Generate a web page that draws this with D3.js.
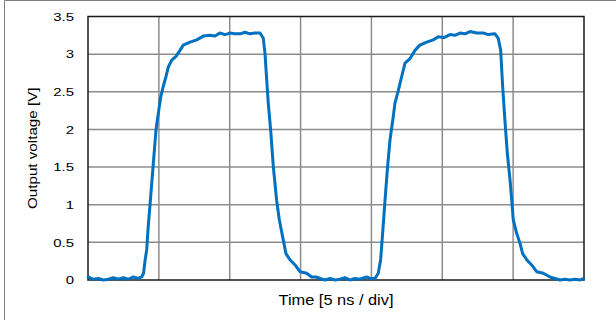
<!DOCTYPE html>
<html>
<head>
<meta charset="utf-8">
<script src="https://cdn.jsdelivr.net/npm/d3@7"></script>
<style>
  html, body { margin: 0; padding: 0; background: #fff; }
  svg { display: block; }
</style>
</head>
<body>
<svg class="chart"></svg>
<script>
// Waveform: time in ns (5 ns per division), output in volts
const timeNs = [
  0.02, 0.37, 0.73, 1.08, 1.43, 1.79, 2.14, 2.49, 2.84, 3.20, 3.55, 3.79,
  3.92, 4.02, 4.14, 4.25, 4.42, 4.61, 4.80, 4.96, 5.13, 5.31, 5.50, 5.67,
  5.91, 6.21, 6.49, 6.72, 7.20, 7.67, 8.14, 8.61, 8.96, 9.31, 9.67, 10.02,
  10.37, 10.73, 11.08, 11.43, 11.78, 12.14, 12.37, 12.49, 12.61, 12.72, 12.89, 13.08,
  13.31, 13.50, 13.78, 13.97, 14.25, 14.61, 14.96, 15.43, 15.78, 16.09, 16.37, 16.72,
  17.08, 17.43, 17.78, 18.13, 18.49, 18.84, 19.19, 19.66, 19.90, 20.25, 20.48, 20.65,
  20.79, 20.96, 21.12, 21.31, 21.54, 21.66, 21.90, 22.13, 22.37, 22.72, 23.07, 23.42,
  23.90, 24.36, 24.72, 25.12, 25.54, 25.90, 26.25, 26.60, 26.96, 27.43, 27.89, 28.25,
  28.72, 28.95, 29.12, 29.26, 29.42, 29.59, 29.78, 29.90, 30.01, 30.25, 30.48, 30.67,
  30.96, 31.31, 31.66, 32.13, 32.60, 32.95, 33.31, 33.66, 34.01, 34.36, 34.72, 34.95
];
const voltage = [
  0.04, 0.01, 0.02, 0.00, 0.01, 0.03, 0.01, 0.03, 0.01, 0.04, 0.02, 0.04,
  0.09, 0.25, 0.40, 0.71, 1.10, 1.55, 2.00, 2.21, 2.43, 2.57, 2.70, 2.83,
  2.92, 2.97, 3.05, 3.12, 3.16, 3.19, 3.24, 3.25, 3.24, 3.28, 3.26, 3.28,
  3.27, 3.27, 3.29, 3.27, 3.28, 3.28, 3.21, 3.01, 2.66, 2.35, 1.99, 1.50,
  1.06, 0.80, 0.53, 0.35, 0.27, 0.20, 0.11, 0.09, 0.04, 0.04, 0.02, 0.00,
  0.02, 0.00, 0.01, 0.03, 0.00, 0.02, 0.01, 0.04, 0.02, 0.02, 0.09, 0.27,
  0.62, 1.06, 1.46, 1.86, 2.17, 2.35, 2.52, 2.70, 2.88, 2.94, 3.05, 3.12,
  3.16, 3.19, 3.23, 3.22, 3.26, 3.25, 3.28, 3.27, 3.30, 3.28, 3.28, 3.26,
  3.27, 3.21, 3.05, 2.57, 2.12, 1.68, 1.33, 1.06, 0.80, 0.62, 0.49, 0.35,
  0.27, 0.20, 0.11, 0.09, 0.04, 0.02, 0.00, 0.01, 0.00, 0.01, 0.00, 0.02
];
const xTicks = [0, 5, 10, 15, 20, 25, 30, 35];
const yTicks = [0, 0.5, 1, 1.5, 2, 2.5, 3, 3.5];
const xTitle = "Time [5 ns / div]";
const yTitle = "Output voltage [V]";

const width = 616;
const height = 320;
const marginTop = 16.5;
const marginRight = 32;
const marginBottom = 40;
const marginLeft = 88;
const textStretch = 1.3;

const data = timeNs.map((t, i) => ({ t, v: voltage[i] }));

const x = d3.scaleLinear()
  .domain([0, 35])
  .range([marginLeft, width - marginRight]);

const y = d3.scaleLinear()
  .domain([0, 3.5])
  .range([height - marginBottom, marginTop]);

const svg = d3.select("svg.chart")
  .attr("width", width)
  .attr("height", height)
  .attr("viewBox", `0 0 ${width} ${height}`)
  .style("font-family", "'Liberation Sans', Arial, sans-serif");

// outer chart border (only top and left edges are in frame)
svg.append("path")
  .attr("d", `M4.5,${height}V0.5H${width}`)
  .attr("fill", "none")
  .attr("stroke", "#7f7f7f")
  .attr("stroke-width", 1);

// grid
svg.append("g")
  .attr("stroke", "#8c8c8c")
  .attr("stroke-width", 1.5)
  .call(g => g.selectAll("line.v")
    .data(xTicks.slice(1, -1))
    .join("line")
    .attr("class", "v")
    .attr("x1", d => x(d)).attr("x2", d => x(d))
    .attr("y1", y(0)).attr("y2", y(3.5)))
  .call(g => g.selectAll("line.h")
    .data(yTicks.slice(1, -1))
    .join("line")
    .attr("class", "h")
    .attr("x1", x(0)).attr("x2", x(35))
    .attr("y1", d => y(d)).attr("y2", d => y(d)));

// plot frame
svg.append("rect")
  .attr("x", x(0))
  .attr("y", y(3.5))
  .attr("width", x(35) - x(0))
  .attr("height", y(0) - y(3.5))
  .attr("fill", "none")
  .attr("stroke", "#1a1a1a")
  .attr("stroke-width", 1.5);

// waveform
const line = d3.line()
  .x(d => x(d.t))
  .y(d => y(d.v));

svg.append("path")
  .datum(data)
  .attr("fill", "none")
  .attr("stroke", "#0070c0")
  .attr("stroke-width", 3)
  .attr("stroke-linejoin", "round")
  .attr("stroke-linecap", "round")
  .attr("d", line);

// y axis labels
const yAxis = svg.append("g")
  .attr("transform", `translate(${marginLeft},0)`)
  .call(d3.axisLeft(y).tickValues(yTicks).tickSize(0).tickPadding(14).tickFormat(d3.format("~g")))
  .call(g => g.select(".domain").remove());

yAxis.selectAll("text")
  .attr("font-size", 11.5)
  .attr("fill", "#000")
  .attr("x", -14 / textStretch)
  .attr("transform", `scale(${textStretch},1)`);

// axis titles
svg.append("text")
  .attr("transform", `translate(${(x(0) + x(35)) / 2},305) scale(${textStretch * 0.9},1)`)
  .attr("text-anchor", "middle")
  .attr("font-size", 14)
  .text(xTitle);

svg.append("text")
  .attr("transform", `translate(37,${(y(0) + y(3.5)) / 2}) rotate(-90) scale(${textStretch * 0.9},1)`)
  .attr("text-anchor", "middle")
  .attr("font-size", 13)
  .text(yTitle);
</script>
</body>
</html>
